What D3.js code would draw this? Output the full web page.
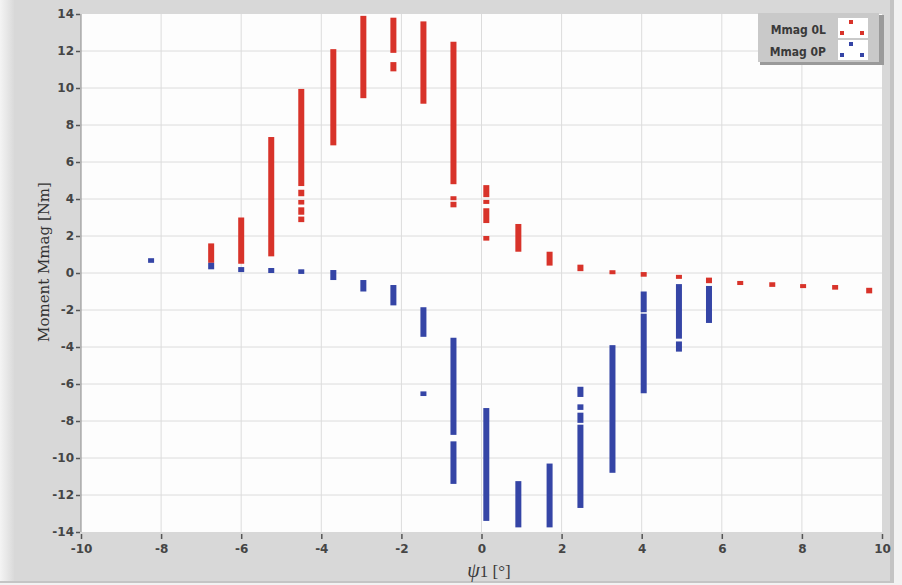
<!DOCTYPE html>
<html lang="en">
<head>
<meta charset="UTF-8">
<title>Moment Mmag</title>
<script src="https://d3js.org/d3.v7.min.js"></script>
<style>
    body { margin: 0; background: #fff; }
    .tick text { font-family: "DejaVu Sans", sans-serif; font-weight: bold; font-size: 12px; fill: #454545; }
    .legend text { font-family: "DejaVu Sans Condensed", "DejaVu Sans", sans-serif; font-weight: bold; font-size: 12px; fill: #3a3a3a; }
</style>
</head>
<body>
<svg id="chart" width="902" height="585"></svg>
<script>
    // [psi1, top, bottom] for each vertical run of points
    const seriesNames = ["Mmag 0L", "Mmag 0P"];
    const seriesColors = ["#d8332a", "#3545a6"];
    const xTicks = [-10, -8, -6, -4, -2, 0, 2, 4, 6, 8, 10];
    const yTicks = [-14, -12, -10, -8, -6, -4, -2, 0, 2, 4, 6, 8, 10, 12, 14];

    const red0L = [
        [-6.75, 1.6, 0.55],
        [-6.0, 3.0, 0.5],
        [-5.25, 7.35, 0.9],
        [-4.5, 9.95, 4.7], [-4.5, 4.5, 4.15], [-4.5, 3.95, 3.7], [-4.5, 3.55, 3.15], [-4.5, 3.05, 2.75],
        [-3.7, 12.1, 6.9],
        [-2.95, 13.9, 9.45],
        [-2.2, 13.8, 11.9], [-2.2, 11.4, 10.9],
        [-1.45, 13.6, 9.15],
        [-0.7, 12.5, 4.8], [-0.7, 4.15, 3.95], [-0.7, 3.85, 3.55],
        [0.12, 4.75, 4.1], [0.12, 3.95, 3.75], [0.12, 3.5, 2.7], [0.12, 2.0, 1.75],
        [0.92, 2.65, 1.15],
        [1.7, 1.15, 0.4],
        [2.47, 0.45, 0.1],
        [3.27, 0.15, -0.05],
        [4.05, 0.05, -0.2],
        [4.93, -0.1, -0.3],
        [5.68, -0.25, -0.55],
        [6.46, -0.43, -0.65],
        [7.26, -0.5, -0.75],
        [8.03, -0.6, -0.8],
        [8.83, -0.65, -0.9],
        [9.68, -0.8, -1.1]
    ];

    const blue0P = [
        [-8.25, 0.8, 0.55],
        [-6.75, 0.55, 0.2],
        [-6.0, 0.32, 0.05],
        [-5.25, 0.27, 0.0],
        [-4.5, 0.2, -0.05],
        [-3.7, 0.16, -0.38],
        [-2.95, -0.38, -1.0],
        [-2.2, -0.65, -1.75],
        [-1.45, -1.85, -3.45], [-1.45, -6.4, -6.65],
        [-0.7, -3.5, -8.75], [-0.7, -9.1, -11.4],
        [0.12, -7.3, -13.4],
        [0.92, -11.25, -13.75],
        [1.7, -10.3, -13.75],
        [2.47, -6.15, -6.7], [2.47, -7.1, -7.4], [2.47, -7.55, -8.1], [2.47, -8.2, -12.7],
        [3.27, -3.9, -10.8],
        [4.05, -1.0, -2.12], [4.05, -2.2, -6.5],
        [4.93, -0.6, -3.55], [4.93, -3.7, -4.25],
        [5.68, -0.7, -2.7]
    ];

    const svg = d3.select("#chart");
    const W = 902, H = 585;
    const plot = {left: 81, right: 882, top: 14, bottom: 532};

    // frame
    const defs = svg.append("defs");
    const grad = defs.append("linearGradient").attr("id", "edge");
    grad.append("stop").attr("offset", "0%").attr("stop-color", "#f4f4f4");
    grad.append("stop").attr("offset", "100%").attr("stop-color", "#dadada");
    svg.append("rect").attr("width", W).attr("height", H).attr("fill", "#f2f2f2");
    svg.append("rect").attr("width", 890).attr("height", 581).attr("fill", "#d8d8d8");
    svg.append("rect").attr("width", 14).attr("height", 581).attr("fill", "url(#edge)");
    svg.append("rect").attr("x", 890).attr("width", 4).attr("height", 582).attr("fill", "#c4c4c4");
    svg.append("rect").attr("y", 581).attr("width", 894).attr("height", 2).attr("fill", "#c4c4c4");

    const x = d3.scaleLinear().domain([-10, 10]).range([plot.left, plot.right]);
    const y = d3.scaleLinear().domain([-14, 14]).range([plot.bottom, plot.top]);

    svg.append("rect")
        .attr("x", plot.left).attr("y", plot.top)
        .attr("width", plot.right - plot.left).attr("height", plot.bottom - plot.top)
        .attr("fill", "#fdfdfd");

    // grid
    svg.append("g").selectAll("line").data(xTicks.slice(1, -1)).join("line")
        .attr("x1", d => x(d)).attr("x2", d => x(d))
        .attr("y1", plot.top).attr("y2", plot.bottom)
        .attr("stroke", "#dcdcdc").attr("stroke-width", 1);
    svg.append("g").selectAll("line").data(yTicks.slice(1, -1)).join("line")
        .attr("x1", plot.left).attr("x2", plot.right)
        .attr("y1", d => y(d)).attr("y2", d => y(d))
        .attr("stroke", "#dcdcdc").attr("stroke-width", 1);

    svg.append("line").attr("x1", plot.left).attr("x2", plot.left)
        .attr("y1", plot.top).attr("y2", plot.bottom).attr("stroke", "#8a8a8a");

    // axes (plain hyphen minus like the original)
    const fmt = d => String(d);
    const xAxis = svg.append("g").attr("transform", `translate(0,${plot.bottom + 2})`)
        .call(d3.axisBottom(x).tickValues(xTicks).tickFormat(fmt).tickSize(5).tickPadding(5));
    const yAxis = svg.append("g").attr("transform", `translate(${plot.left - 1},0)`)
        .call(d3.axisLeft(y).tickValues(yTicks).tickFormat(fmt).tickSize(4).tickPadding(2));
    [xAxis, yAxis].forEach(a => {
        a.select(".domain").remove();
        a.selectAll(".tick line").attr("stroke", "#555").attr("stroke-width", 1.5);
    });

    // data runs
    const barW = 6;
    [red0L, blue0P].forEach((runs, i) => {
        svg.append("g").selectAll("rect").data(runs).join("rect")
            .attr("x", d => x(d[0]) - barW / 2)
            .attr("y", d => y(d[1]))
            .attr("width", barW)
            .attr("height", d => Math.max(4, y(d[2]) - y(d[1])))
            .attr("fill", seriesColors[i]);
    });

    // axis titles
    svg.append("text")
        .attr("transform", "translate(49,262) rotate(-90)")
        .attr("text-anchor", "middle")
        .attr("font-family", "'DejaVu Serif', serif")
        .attr("font-size", 15).attr("fill", "#333")
        .text("Moment Mmag [Nm]");
    const xt = svg.append("text")
        .attr("x", 489).attr("y", 577)
        .attr("text-anchor", "middle")
        .attr("font-family", "'Liberation Serif', 'DejaVu Serif', serif")
        .attr("font-size", 17).attr("fill", "#3a3a3a");
    xt.append("tspan").attr("font-style", "italic").attr("font-size", 20).text("ψ");
    xt.append("tspan").text("1 [°]");

    // legend
    const lg = svg.append("g").attr("class", "legend").attr("transform", "translate(758,13)");
    lg.append("rect").attr("x", 2).attr("y", 2).attr("width", 124).attr("height", 50).attr("fill", "#9a9a9a");
    lg.append("rect").attr("width", 121).attr("height", 49).attr("fill", "#c9c9c9");
    seriesNames.forEach((name, i) => {
        const row = lg.append("g").attr("transform", `translate(0,${4 + i * 22})`);
        row.append("text").attr("x", 68).attr("y", 17).attr("text-anchor", "end").text(name);
        row.append("rect").attr("x", 80).attr("y", 1).attr("width", 30).attr("height", 20).attr("fill", "#fff");
        [[93, 5], [84, 16], [104, 16]].forEach(p => {
            row.append("rect").attr("x", p[0] - 2).attr("y", p[1] - 2)
                .attr("width", 4).attr("height", 4).attr("fill", seriesColors[i]);
        });
    });
</script>
</body>
</html>
